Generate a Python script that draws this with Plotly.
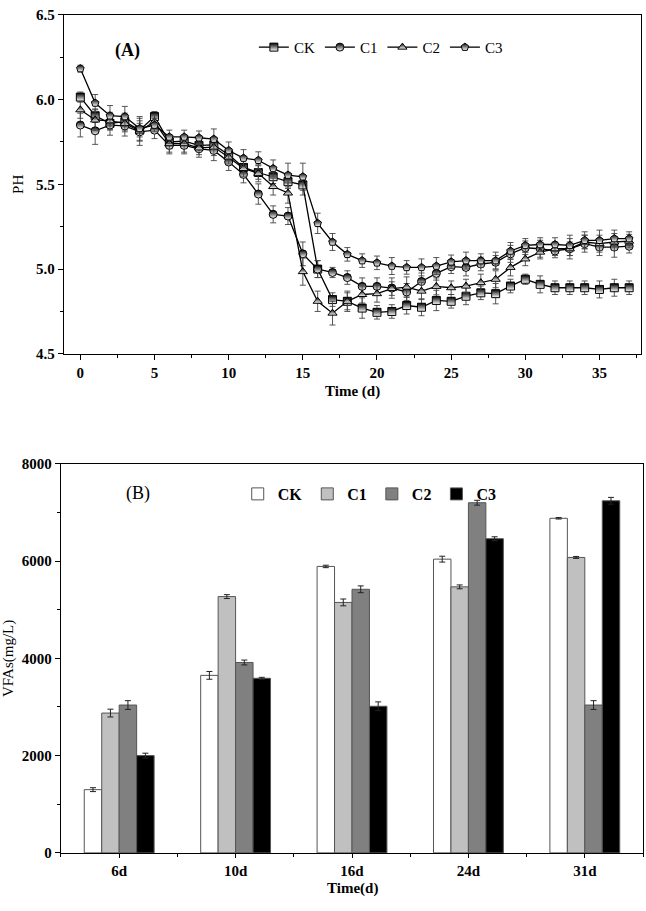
import plotly.graph_objects as go

# ---------------- Panel A data (pH) ----------------
days = list(range(38))
ph_CK = [6.015, 5.905, 5.86, 5.87, 5.82, 5.90, 5.75, 5.755, 5.73, 5.733,
         5.675, 5.60, 5.57, 5.545, 5.516, 5.497, 5.00, 4.82, 4.81, 4.77,
         4.745, 4.75, 4.785, 4.775, 4.815, 4.81, 4.84, 4.86, 4.855, 4.90,
         4.94, 4.91, 4.89, 4.89, 4.89, 4.88, 4.89, 4.89]
ph_C1 = [5.85, 5.816, 5.85, 5.845, 5.81, 5.82, 5.73, 5.73, 5.71, 5.70,
         5.632, 5.559, 5.443, 5.323, 5.313, 5.09, 5.00, 4.98, 4.95, 4.898,
         4.898, 4.888, 4.865, 4.927, 4.975, 5.014, 5.01, 5.03, 5.04, 5.09,
         5.126, 5.12, 5.107, 5.12, 5.15, 5.13, 5.13, 5.135]
ph_C2 = [5.94, 5.88, 5.875, 5.86, 5.815, 5.87, 5.74, 5.74, 5.715, 5.72,
         5.66, 5.594, 5.565, 5.487, 5.449, 4.985, 4.81, 4.74, 4.81, 4.85,
         4.855, 4.885, 4.894, 4.87, 4.898, 4.89, 4.90, 4.92, 4.94, 5.01,
         5.06, 5.10, 5.12, 5.12, 5.16, 5.15, 5.16, 5.165]
ph_C3 = [6.183, 5.98, 5.905, 5.90, 5.83, 5.85, 5.78, 5.78, 5.775, 5.767,
         5.70, 5.655, 5.642, 5.594, 5.555, 5.545, 5.27, 5.16, 5.087, 5.05,
         5.037, 5.018, 5.01, 5.01, 5.018, 5.043, 5.05, 5.05, 5.05, 5.107,
         5.14, 5.145, 5.145, 5.14, 5.17, 5.17, 5.18, 5.18]
err_CK = [0.03, 0.04, 0.04, 0.05, 0.04, 0.03, 0.04, 0.03, 0.03, 0.04,
          0.03, 0.04, 0.04, 0.04, 0.04, 0.06, 0.05, 0.04, 0.05, 0.06,
          0.04, 0.04, 0.05, 0.05, 0.06, 0.04, 0.05, 0.04, 0.06, 0.04,
          0.03, 0.05, 0.04, 0.04, 0.04, 0.05, 0.05, 0.04]
err_C1 = [0.07, 0.08, 0.06, 0.06, 0.08, 0.05, 0.05, 0.05, 0.05, 0.06,
          0.05, 0.05, 0.06, 0.05, 0.05, 0.07, 0.05, 0.03, 0.04, 0.05,
          0.05, 0.06, 0.05, 0.05, 0.04, 0.04, 0.05, 0.04, 0.04, 0.05,
          0.04, 0.05, 0.04, 0.04, 0.05, 0.05, 0.06, 0.04]
err_C2 = [0.05, 0.06, 0.05, 0.05, 0.06, 0.04, 0.05, 0.05, 0.04, 0.05,
          0.04, 0.05, 0.05, 0.05, 0.06, 0.08, 0.06, 0.07, 0.06, 0.05,
          0.05, 0.04, 0.06, 0.05, 0.05, 0.04, 0.04, 0.05, 0.05, 0.05,
          0.04, 0.04, 0.04, 0.06, 0.04, 0.05, 0.05, 0.04]
err_C3 = [0.02, 0.05, 0.06, 0.06, 0.07, 0.04, 0.04, 0.04, 0.04, 0.06,
          0.05, 0.05, 0.05, 0.05, 0.07, 0.08, 0.06, 0.05, 0.04, 0.04,
          0.04, 0.05, 0.04, 0.05, 0.05, 0.04, 0.05, 0.04, 0.05, 0.05,
          0.04, 0.04, 0.04, 0.06, 0.05, 0.06, 0.05, 0.04]

# ---------------- Panel B data (VFAs) ----------------
cats = ['6d', '10d', '16d', '24d', '31d']
vfa_CK = [1300, 3650, 5890, 6040, 6880]
vfa_C1 = [2875, 5270, 5150, 5470, 6075]
vfa_C2 = [3040, 3915, 5420, 7200, 3040]
vfa_C3 = [2000, 3590, 3015, 6460, 7240]
verr_CK = [40, 80, 25, 60, 15]
verr_C1 = [80, 40, 70, 40, 20]
verr_C2 = [90, 50, 70, 50, 90]
verr_C3 = [50, 20, 90, 40, 70]

SERIF = "Liberation Serif"
fig = go.Figure()

line_series = [
    ("CK", ph_CK, err_CK, "square"),
    ("C1", ph_C1, err_C1, "circle"),
    ("C2", ph_C2, err_C2, "triangle-up"),
    ("C3", ph_C3, err_C3, "pentagon"),
]
for name, vals, err, sym in line_series:
    fig.add_trace(go.Scatter(
        x=days, y=vals, name=name, mode="lines+markers",
        line=dict(color="black", width=1.3),
        marker=dict(symbol=sym, size=8, color="black",
                    gradient=dict(type="vertical", color="white"),
                    line=dict(color="black", width=1)),
        error_y=dict(type="data", array=err, color="#444444",
                     thickness=0.9, width=3),
        xaxis="x", yaxis="y", legend="legend"))

bar_series = [
    ("CK", vfa_CK, verr_CK, "white"),
    ("C1", vfa_C1, verr_C1, "#c0c0c0"),
    ("C2", vfa_C2, verr_C2, "#808080"),
    ("C3", vfa_C3, verr_C3, "#000000"),
]
for name, vals, err, col in bar_series:
    fig.add_trace(go.Bar(
        x=list(range(len(cats))), y=vals, name=name,
        marker=dict(color=col, line=dict(color="#555555", width=1)),
        error_y=dict(type="data", array=err, color="#222222",
                     thickness=1, width=3),
        xaxis="x2", yaxis="y2", legend="legend2"))

boldtick = dict(family=SERIF, size=15, color="black", weight="bold")

axis_common = dict(showline=True, linecolor="black", linewidth=1.3,
                   showgrid=False, zeroline=False, ticks="outside",
                   tickcolor="black", tickwidth=1.2)

fig.update_layout(
    width=646, height=911,
    margin=dict(l=0, r=0, t=0, b=0),
    paper_bgcolor="white", plot_bgcolor="white",
    barmode="group", bargap=0.4, bargroupgap=0,
    font=dict(family=SERIF, color="black"),
    xaxis=dict(domain=[0.0991, 0.9923], anchor="y", range=[-1.1, 37.8],
               tickvals=[0, 5, 10, 15, 20, 25, 30, 35], tickfont=boldtick,
               ticklen=5,
               minor=dict(dtick=2.5, tick0=0, ticks="outside", ticklen=3,
                          tickcolor="black"),
               mirror=True, **axis_common),
    yaxis=dict(domain=[0.6136, 0.9923], anchor="x", range=[4.5, 6.5],
               dtick=0.5, tickformat=".1f", tickfont=boldtick, ticklen=5,
               minor=dict(dtick=0.25, ticks="outside", ticklen=3,
                          tickcolor="black"),
               mirror=True,
               title=dict(text="PH", font=dict(family=SERIF, size=15),
                          standoff=8),
               **axis_common),
    xaxis3=dict(overlaying="x", side="top", anchor="y", range=[-1.1, 37.8],
                tickvals=[0, 5, 10, 15, 20, 25, 30, 35], showticklabels=False,
                ticks="inside", ticklen=6, tickwidth=1.2, tickcolor="black",
                minor=dict(dtick=2.5, tick0=0, ticks="inside", ticklen=4,
                           tickcolor="black"),
                showgrid=False, zeroline=False, showline=False),
    yaxis3=dict(overlaying="y", side="right", anchor="x", range=[4.5, 6.5],
                dtick=0.5, showticklabels=False,
                ticks="inside", ticklen=6, tickwidth=1.2, tickcolor="black",
                minor=dict(dtick=0.25, ticks="inside", ticklen=4,
                           tickcolor="black"),
                showgrid=False, zeroline=False, showline=False),
    xaxis2=dict(domain=[0.0944, 0.9954], anchor="y2", range=[-0.5, 4.5],
                tickvals=list(range(len(cats))), ticktext=cats,
                tickfont=boldtick, ticklen=4,
                minor=dict(dtick=0.5, tick0=0.5, ticks="outside", ticklen=3,
                           tickcolor="black"),
                mirror=True, **axis_common),
    yaxis2=dict(domain=[0.0560, 0.4907], anchor="x2", range=[0, 8000],
                dtick=2000, tickfont=boldtick, ticklen=5,
                minor=dict(dtick=1000, ticks="outside", ticklen=3,
                           tickcolor="black"),
                mirror=True,
                title=dict(text="VFAs(mg/L)", font=dict(family=SERIF, size=15),
                           standoff=6),
                **axis_common),
    xaxis4=dict(overlaying="x2", side="top", anchor="y2", range=[-0.5, 4.5],
                tickvals=list(range(len(cats))), showticklabels=False,
                ticks="inside", ticklen=6, tickwidth=1.2, tickcolor="black",
                minor=dict(dtick=0.5, tick0=0.5, ticks="inside", ticklen=4,
                           tickcolor="black"),
                showgrid=False, zeroline=False, showline=False),
    yaxis4=dict(overlaying="y2", side="right", anchor="x2", range=[0, 8000],
                dtick=2000, showticklabels=False,
                ticks="inside", ticklen=6, tickwidth=1.2, tickcolor="black",
                minor=dict(dtick=1000, ticks="inside", ticklen=4,
                           tickcolor="black"),
                showgrid=False, zeroline=False, showline=False),
    legend=dict(orientation="h", x=0.393, y=0.956, xanchor="left",
                yanchor="middle", font=dict(family=SERIF, size=15),
                bgcolor="rgba(0,0,0,0)", itemwidth=30, tracegroupgap=0),
    legend2=dict(orientation="h", x=0.368, y=0.457, xanchor="left",
                 yanchor="middle", font=dict(family=SERIF, size=16, weight="bold"),
                 bgcolor="rgba(0,0,0,0)", itemwidth=30),
    annotations=[
        dict(text="<b>(A)</b>", xref="x", yref="y", x=3.2, y=6.29,
             showarrow=False, font=dict(family=SERIF, size=18)),
        dict(text="(B)", xref="x2", yref="y2", x=0.16, y=7400,
             showarrow=False, font=dict(family=SERIF, size=18)),
        dict(text="<b>Time (d)</b>", xref="x domain", yref="paper",
             x=0.5, y=1 - 380 / 911, yanchor="top", showarrow=False,
             font=dict(family=SERIF, size=15)),
        dict(text="<b>Time(d)</b>", xref="x2 domain", yref="paper",
             x=0.5, y=1 - 886 / 911, yanchor="top", showarrow=False,
             font=dict(family=SERIF, size=15)),
    ],
)

fig.write_html("out.html")
